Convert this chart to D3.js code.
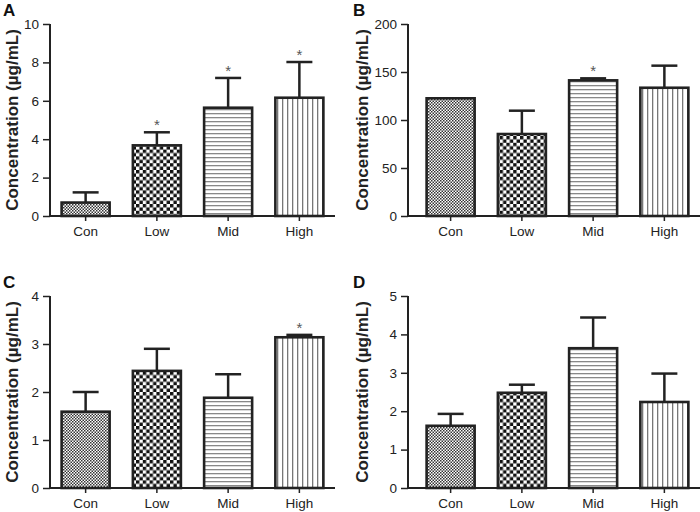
<!DOCTYPE html>
<html>
<head>
<meta charset="utf-8">
<script src="https://cdn.jsdelivr.net/npm/d3@7"></script>
<style>
  body { margin: 0; background: #fff; }
  text { font-family: "Liberation Sans", Arial, sans-serif; }
</style>
</head>
<body>
<svg id="chart" width="700" height="512"></svg>
<script>
'use strict';

// data
const categories = ["Con", "Low", "Mid", "High"];

const meansA = [0.7, 3.68, 5.64, 6.16];
const errA   = [0.53, 0.68, 1.55, 1.86];
const starsA = [false, true, true, true];
const ticksA = [0, 2, 4, 6, 8, 10];

const meansB = [122.6, 85.4, 141.3, 133.6];
const errB   = [0, 24.3, 2.1, 23.0];
const starsB = [false, false, true, false];
const ticksB = [0, 50, 100, 150, 200];

const meansC = [1.59, 2.44, 1.88, 3.14];
const errC   = [0.41, 0.46, 0.49, 0.05];
const starsC = [false, false, false, true];
const ticksC = [0, 1, 2, 3, 4];

const meansD = [1.62, 2.48, 3.64, 2.24];
const errD   = [0.31, 0.21, 0.80, 0.74];
const starsD = [false, false, false, false];
const ticksD = [0, 1, 2, 3, 4, 5];

const yLabel = "Concentration (\u00b5g/mL)";

const svg = d3.select("#chart");

// fill patterns for the four groups
const defs = svg.append("defs");

function checker(id, cell, color) {
  const p = defs.append("pattern")
      .attr("id", id)
      .attr("patternUnits", "userSpaceOnUse")
      .attr("width", cell * 2)
      .attr("height", cell * 2);
  p.append("rect").attr("width", cell * 2).attr("height", cell * 2).attr("fill", "#fff");
  p.append("rect").attr("width", cell).attr("height", cell).attr("fill", color);
  p.append("rect").attr("x", cell).attr("y", cell).attr("width", cell).attr("height", cell).attr("fill", color);
}
checker("pat-con", 1.5, "#333");
checker("pat-low", 3.4, "#111");

const ph = defs.append("pattern")
    .attr("id", "pat-mid")
    .attr("patternUnits", "userSpaceOnUse")
    .attr("width", 8).attr("height", 4);
ph.append("rect").attr("width", 8).attr("height", 4).attr("fill", "#fff");
ph.append("rect").attr("y", 1).attr("width", 8).attr("height", 1.3).attr("fill", "#888");

const pv = defs.append("pattern")
    .attr("id", "pat-high")
    .attr("patternUnits", "userSpaceOnUse")
    .attr("width", 5).attr("height", 8);
pv.append("rect").attr("width", 5).attr("height", 8).attr("fill", "#fff");
pv.append("rect").attr("x", 2).attr("width", 1.3).attr("height", 8).attr("fill", "#777");

const fills = ["url(#pat-con)", "url(#pat-low)", "url(#pat-mid)", "url(#pat-high)"];

const panels = [
  {letter: "A", ox: 0,   oy: 0,   x0: 50, x1: 335, yTop: 24, yBot: 216, means: meansA, err: errA, stars: starsA, ticks: ticksA},
  {letter: "B", ox: 350, oy: 0,   x0: 58, x1: 350, xb0: 65, yTop: 24, yBot: 216, means: meansB, err: errB, stars: starsB, ticks: ticksB},
  {letter: "C", ox: 0,   oy: 256, x0: 50, x1: 335, yTop: 40, yBot: 232, means: meansC, err: errC, stars: starsC, ticks: ticksC},
  {letter: "D", ox: 350, oy: 256, x0: 58, x1: 350, xb0: 65, yTop: 40, yBot: 232, means: meansD, err: errD, stars: starsD, ticks: ticksD}
];

panels.forEach(function(p) { drawPanel(p); });

function drawPanel(p) {
  const g = svg.append("g").attr("transform", "translate(" + p.ox + "," + p.oy + ")");

  const x = d3.scaleBand()
      .domain(categories)
      .range([p.xb0 || p.x0, p.x1])
      .paddingInner(0.326)
      .paddingOuter(0.163);

  const y = d3.scaleLinear()
      .domain([0, p.ticks[p.ticks.length - 1]])
      .range([p.yBot, p.yTop]);

  const data = categories.map(function(c, i) {
    return {cat: c, mean: p.means[i], err: p.err[i], star: p.stars[i], fill: fills[i]};
  });

  // error bars (upper only)
  const eb = g.append("g").attr("stroke", "#222").attr("stroke-width", 2.5);
  data.forEach(function(d) {
    const cx = x(d.cat) + x.bandwidth() / 2;
    eb.append("line")
        .attr("x1", cx).attr("x2", cx)
        .attr("y1", y(d.mean)).attr("y2", y(d.mean + d.err));
    eb.append("line")
        .attr("x1", cx - 13).attr("x2", cx + 13)
        .attr("y1", y(d.mean + d.err)).attr("y2", y(d.mean + d.err));
  });

  // bars
  g.selectAll("rect.bar")
    .data(data)
    .enter().append("rect")
      .attr("class", "bar")
      .attr("x", function(d) { return x(d.cat); })
      .attr("y", function(d) { return y(d.mean); })
      .attr("width", x.bandwidth())
      .attr("height", function(d) { return y(0) - y(d.mean); })
      .attr("fill", function(d) { return d.fill; })
      .attr("stroke", "#222")
      .attr("stroke-width", 2.6);

  // significance marks
  g.selectAll("text.star")
    .data(data.filter(function(d) { return d.star; }))
    .enter().append("text")
      .attr("class", "star")
      .attr("x", function(d) { return x(d.cat) + x.bandwidth() / 2; })
      .attr("y", function(d) { return y(d.mean + d.err) - 2; })
      .attr("text-anchor", "middle")
      .attr("font-size", 15)
      .attr("fill", "#555")
      .text("*");

  // axes
  const yAxis = d3.axisLeft(y).tickValues(p.ticks).tickFormat(d3.format("d")).tickSize(7).tickPadding(4);
  const ya = g.append("g")
      .attr("transform", "translate(" + p.x0 + ",0)")
      .call(yAxis);
  ya.select(".domain").attr("d", "M0," + p.yTop + "V" + p.yBot);

  const xAxis = d3.axisBottom(x).tickSize(5).tickPadding(5);
  const xa = g.append("g")
      .attr("transform", "translate(0," + p.yBot + ")")
      .call(xAxis);
  xa.select(".domain").attr("d", "M" + p.x0 + ",0H" + p.x1);

  [ya, xa].forEach(function(a) {
    a.selectAll(".domain").attr("stroke", "#222").attr("stroke-width", 2);
    a.selectAll(".tick line").attr("stroke", "#222").attr("stroke-width", 1.5);
    a.selectAll(".tick text").attr("font-size", 13.5).attr("fill", "#222")
        .attr("font-family", "'Liberation Sans', Arial, sans-serif");
  });

  // y label
  g.append("text")
      .attr("transform", "translate(" + 18 + "," + ((p.yTop + p.yBot) / 2) + ") rotate(-90)")
      .attr("text-anchor", "middle")
      .attr("font-size", 17)
      .attr("font-weight", "bold")
      .attr("fill", "#222")
      .text(yLabel);

  // panel letter
  g.append("text")
      .attr("x", 3)
      .attr("y", p.yTop - 8)
      .attr("font-size", 17)
      .attr("font-weight", "bold")
      .attr("fill", "#111")
      .text(p.letter);
}
</script>
</body>
</html>
